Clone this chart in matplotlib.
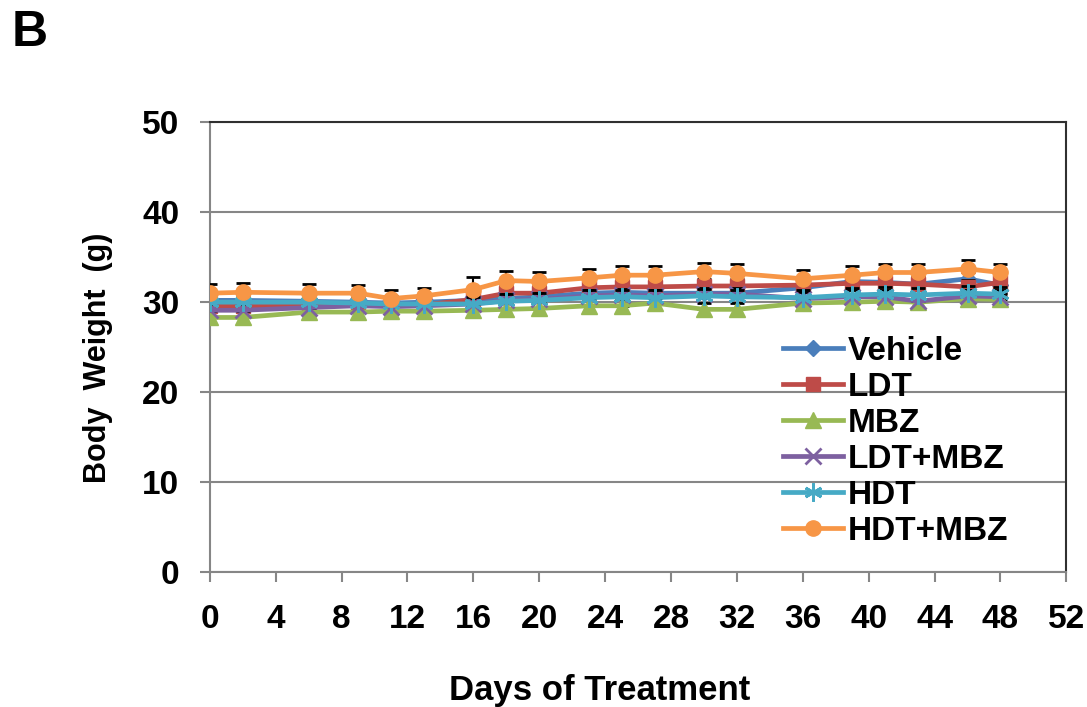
import matplotlib.pyplot as plt

plt.rcParams['font.family'] = ['Liberation Sans', 'DejaVu Sans']
plt.rcParams['font.weight'] = 'bold'

days = [0, 2, 6, 9, 11, 13, 16, 18, 20, 23, 25, 27, 30, 32, 36, 39, 41, 43, 46, 48]

groups = ["Vehicle", "LDT", "MBZ", "LDT+MBZ", "HDT", "HDT+MBZ"]

vehicle = [30.2, 30.2, 30.1, 30.0, 29.9, 30.0, 30.2, 30.4, 30.6, 31.0,
           31.1, 31.0, 31.0, 31.0, 31.6, 32.3, 32.2, 32.0, 32.6, 31.9]
ldt = [29.6, 29.6, 29.6, 29.7, 29.6, 29.7, 30.3, 31.0, 31.0, 31.6,
       31.7, 31.7, 31.8, 31.8, 31.9, 32.1, 32.1, 32.0, 31.7, 32.2]
mbz = [28.3, 28.3, 28.9, 28.9, 29.0, 29.0, 29.1, 29.2, 29.3, 29.6,
       29.6, 29.9, 29.2, 29.2, 29.9, 30.0, 30.1, 30.0, 30.4, 30.3]
ldt_mbz = [29.1, 29.1, 29.4, 29.6, 29.5, 29.6, 29.8, 30.2, 30.3, 30.7,
           30.8, 30.7, 30.9, 30.9, 30.4, 30.6, 30.6, 30.1, 30.7, 30.6]
hdt = [30.0, 30.0, 30.0, 29.9, 29.8, 29.8, 29.8, 30.1, 30.2, 30.5,
       30.6, 30.5, 30.7, 30.6, 30.5, 30.8, 30.9, 30.8, 31.0, 30.9]
hdt_mbz = [31.0, 31.1, 31.0, 31.0, 30.4, 30.7, 31.4, 32.4, 32.3, 32.7,
           33.0, 33.0, 33.4, 33.2, 32.6, 33.0, 33.3, 33.3, 33.7, 33.3]

# upper error bars (SEM)
err_vehicle = [0.8] * len(days)
err_ldt = [0.8] * len(days)
err_mbz = [0.7] * len(days)
err_ldt_mbz = [0.7] * len(days)
err_hdt = [0.8] * len(days)
err_hdt_mbz = [1.0, 1.0, 1.0, 0.9, 0.9, 0.9, 1.4, 1.1, 1.0, 1.0,
               1.0, 1.0, 1.0, 1.1, 1.0, 1.0, 1.0, 0.9, 1.0, 1.0]

series = [vehicle, ldt, mbz, ldt_mbz, hdt, hdt_mbz]
errors = [err_vehicle, err_ldt, err_mbz, err_ldt_mbz, err_hdt, err_hdt_mbz]
colors = ["#4a7ebb", "#be4b48", "#98b954", "#7d60a0", "#46aac5", "#f79646"]
markers = ["D", "s", "^", "x", (6, 2, 0), "o"]
msizes = [8, 10, 11, 12, 13, 11]
edgew = [1, 1, 1, 2, 2, 1]

fig = plt.figure(figsize=(10.87, 7.07), dpi=100)
ax = fig.add_axes([0.193, 0.191, 0.788, 0.636])

for i, (name, vals) in enumerate(zip(groups, series)):
    zero = [0] * len(days)
    ax.errorbar(days, vals, yerr=[zero, errors[i]], fmt="none", ecolor="black",
                elinewidth=1.5, capsize=5, capthick=2, zorder=2 + i)
    ax.plot(days, vals, color=colors[i], lw=3.4, marker=markers[i],
            markersize=msizes[i], markerfacecolor=colors[i],
            markeredgecolor=colors[i], markeredgewidth=edgew[i],
            label=name, zorder=2.5 + i)

ax.set_xlim(0, 52)
ax.set_ylim(0, 50)
ax.set_xticks(range(0, 53, 4))
ax.set_yticks(range(0, 51, 10))
ax.yaxis.grid(True, color="#868686", lw=1.5)
ax.set_axisbelow(True)

for s in ["left", "bottom"]:
    ax.spines[s].set_color("#868686")
    ax.spines[s].set_linewidth(1.5)
for s in ["top", "right"]:
    ax.spines[s].set_color("#303030")
    ax.spines[s].set_linewidth(1.5)

ax.tick_params(axis="x", direction="out", length=7, width=1.5, color="#868686",
               pad=16, labelsize=24)
ax.tick_params(axis="y", direction="out", length=7, width=1.5, color="#868686",
               pad=15, labelsize=24)
for lab in ax.get_xticklabels() + ax.get_yticklabels():
    lab.set_fontweight("bold")

fig.text(0.552, 0.024, "Days of Treatment", fontsize=25, fontweight="bold",
         ha="center", va="center")
fig.text(0.090, 0.494, "Body  Weight  (g)", fontsize=22, fontweight="bold",
         ha="center", va="center", rotation=90)

leg = ax.legend(loc="upper left", bbox_to_anchor=(0.669, 0.525), frameon=False,
                fontsize=24, handlelength=1.8, handletextpad=0.15,
                labelspacing=0.15, borderaxespad=0, borderpad=0)
for t in leg.get_texts():
    t.set_fontweight("bold")

fig.text(0.011, 0.935, "B", fontsize=36, fontweight="bold")

fig.savefig("out.png", dpi=100)
